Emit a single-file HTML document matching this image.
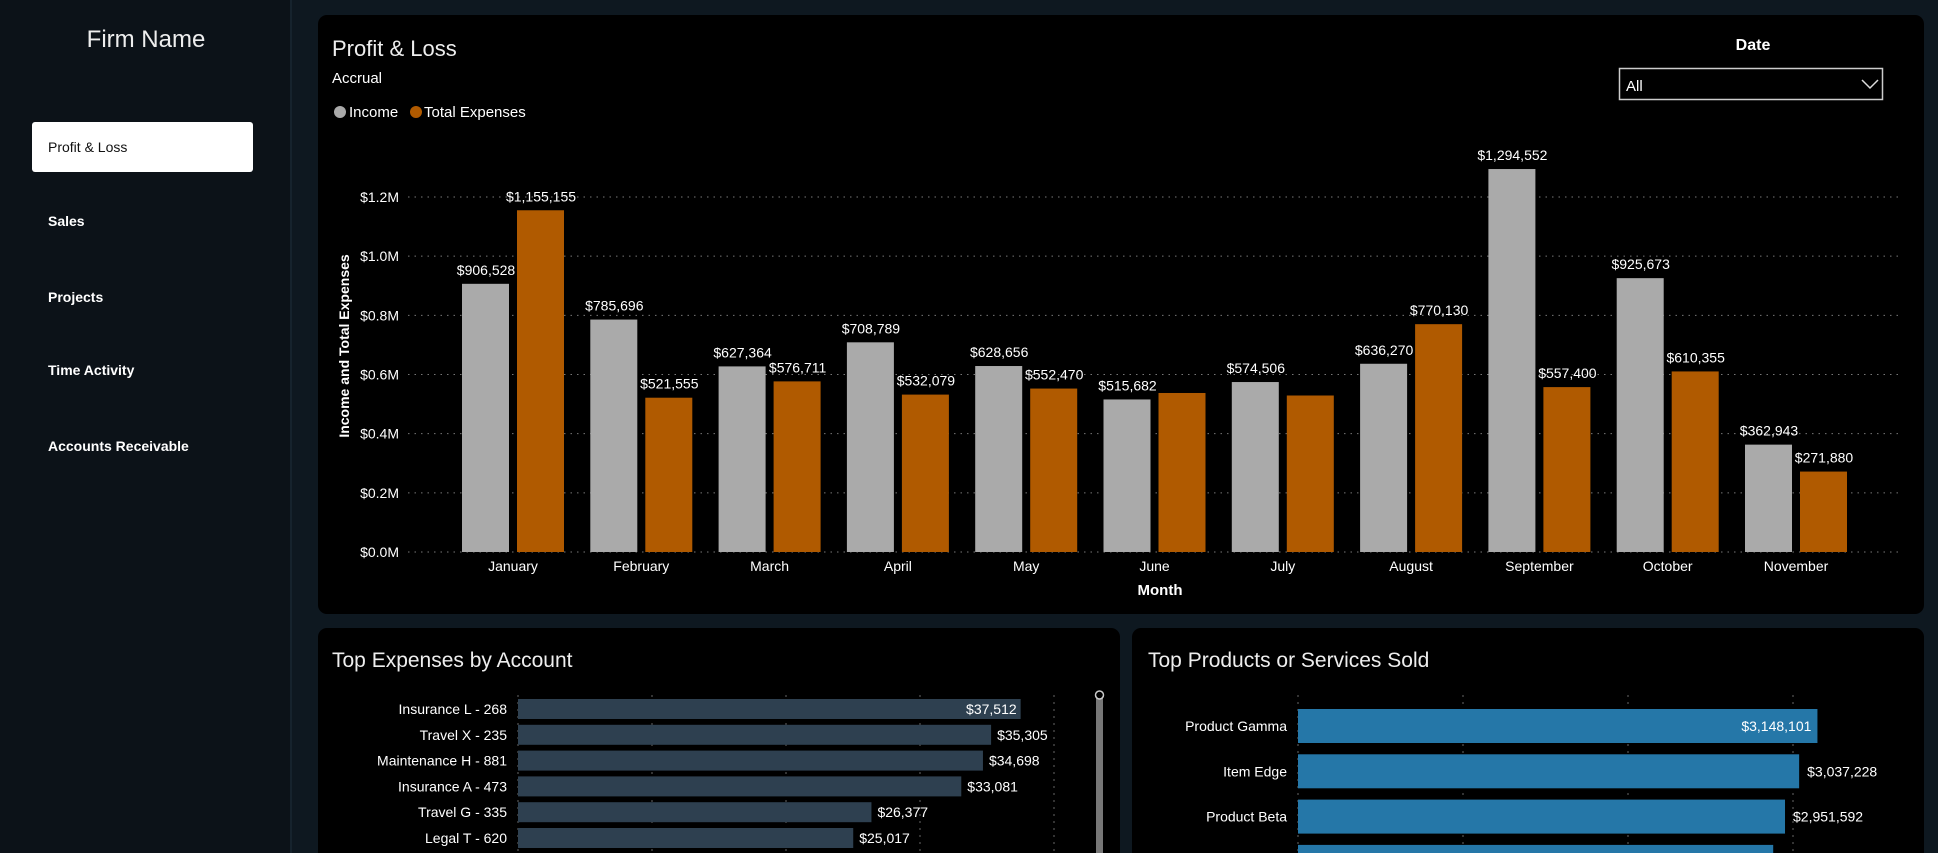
<!DOCTYPE html>
<html style="overflow:hidden;width:1938px;height:853px"><head><meta charset="utf-8">
<style>
*{margin:0;padding:0;box-sizing:border-box}
body{width:1938px;height:853px;overflow:hidden;background:#0e1820;font-family:"Liberation Sans",sans-serif;color:#fff;position:relative}
#side{position:absolute;left:0;top:0;width:292px;height:853px;background:#0c1218;border-right:2px solid #16232d}
.nav{position:absolute;left:48px;font-size:14px;font-weight:bold;color:#fff}
.panel{position:absolute;background:#000;border-radius:9px}
svg text{font-family:"Liberation Sans",sans-serif}
</style></head><body>
<div id="side">
  <div style="position:absolute;left:0;width:292px;top:26px;text-align:center;font-size:24px;font-weight:300;color:#eee">Firm Name</div>
  <div style="position:absolute;left:32px;top:122px;width:221px;height:50px;background:#fff;border-radius:3px;color:#111;font-size:14px;padding:17px 0 0 16px">Profit &amp; Loss</div>
  <div class="nav" style="top:213px">Sales</div>
  <div class="nav" style="top:289px">Projects</div>
  <div class="nav" style="top:362px">Time Activity</div>
  <div class="nav" style="top:438px">Accounts Receivable</div>
</div>

<div class="panel" style="left:318px;top:15px;width:1606px;height:599px"></div>
<div class="panel" style="left:318px;top:628px;width:802px;height:225px;border-radius:9px 9px 0 0"></div>
<div class="panel" style="left:1132px;top:628px;width:792px;height:225px;border-radius:9px 9px 0 0"></div>

<svg id="svg" width="1938" height="853" style="position:absolute;left:0;top:0">
  <text x="332" y="56" font-size="22" fill="#eee">Profit &amp; Loss</text>
  <text x="332" y="83" font-size="15" fill="#fff">Accrual</text>
  <circle cx="340" cy="112" r="6" fill="#aaa"/>
  <text x="349" y="117" font-size="15" fill="#fff">Income</text>
  <circle cx="416" cy="112" r="6" fill="#b05a00"/>
  <text x="424" y="117" font-size="15" fill="#fff">Total Expenses</text>
  <text x="1753" y="50" font-size="16" font-weight="bold" fill="#fff" text-anchor="middle">Date</text>
  <g>
    <rect x="1619.5" y="68.5" width="263" height="31" fill="#000" stroke="#ccc" stroke-width="1.5"/>
    <text x="1626" y="91" font-size="15" fill="#fff">All</text>
    <path d="M1862 80 l8 8 l8 -8" fill="none" stroke="#ddd" stroke-width="1.5"/>
  </g>
  <text transform="translate(349,346) rotate(-90)" font-size="14" font-weight="bold" fill="#fff" text-anchor="middle">Income and Total Expenses</text>
  <text x="1160" y="595" font-size="15" font-weight="bold" fill="#fff" text-anchor="middle">Month</text>
  <g id="main"></g>
  <text x="332" y="667" font-size="21" fill="#eee">Top Expenses by Account</text>
  <g id="exp"></g>
  <rect x="1096" y="696" width="7" height="157" fill="#777"/>
  <circle cx="1099.5" cy="695" r="4" fill="#000" stroke="#ccc" stroke-width="1.5"/>
  <text x="1148" y="667" font-size="21" fill="#eee">Top Products or Services Sold</text>
  <g id="prod"></g>
</svg>
<script>
const months=["January","February","March","April","May","June","July","August","September","October","November"];
const income=[906528,785696,627364,708789,628656,515682,574506,636270,1294552,925673,362943];
const expenses=[1155155,521555,576711,532079,552470,537500,529000,770130,557400,610355,271880];
const expLabels=["$1,155,155","$521,555","$576,711","$532,079","$552,470","","","$770,130","$557,400","$610,355","$271,880"];
const yTicks=[0,200000,400000,600000,800000,1000000,1200000];
const yTickLabels=["$0.0M","$0.2M","$0.4M","$0.6M","$0.8M","$1.0M","$1.2M"];
const accounts=["Insurance L - 268","Travel X - 235","Maintenance H - 881","Insurance A - 473","Travel G - 335","Legal T - 620","Other"];
const accountVals=[37512,35305,34698,33081,26377,25017,24000];
const accTicks=[0,10000,20000,30000,40000];
const products=["Product Gamma","Item Edge","Product Beta","Item Other"];
const productVals=[3148101,3037228,2951592,2880000];
const prodTicks=[0,1000000,2000000,3000000];
const NS="http://www.w3.org/2000/svg";
function mk(p,t,a){const e=document.createElementNS(NS,t);for(const k in a)e.setAttribute(k,a[k]);p.appendChild(e);return e;}
const fmt=v=>"$"+v.toLocaleString("en-US");
const g=document.getElementById('main');
const y=v=>552-v*(355/1200000);
const xc=i=>513+i*128.3;
yTicks.forEach((t,i)=>{
  const l=mk(g,'line',{x1:408,x2:1903,y1:y(t),y2:y(t),stroke:'#777','stroke-dasharray':'1.5 5'});
  
  
  const tx=mk(g,'text',{x:399,y:y(t)+5,'font-size':14,fill:'#fff','text-anchor':'end'});tx.textContent=yTickLabels[i];
  
  
});
months.forEach((m,i)=>{
  const c=xc(i);
  const r1=mk(g,'rect',{x:c-51,y:y(income[i]),width:47,height:552-y(income[i]),fill:'#aaa'});
  
  
  const r2=mk(g,'rect',{x:c+4,y:y(expenses[i]),width:47,height:552-y(expenses[i]),fill:'#b05a00'});
  
  
  const t1=mk(g,'text',{x:c-27,y:y(income[i])-9,'font-size':14,fill:'#fff','text-anchor':'middle'});t1.textContent=fmt(income[i]);
  
  
  const t2=mk(g,'text',{x:c+28,y:y(expenses[i])-9,'font-size':14,fill:'#fff','text-anchor':'middle'});t2.textContent=expLabels[i];
  
  
  const ml=mk(g,'text',{x:c,y:571,'font-size':14,fill:'#fff','text-anchor':'middle'});ml.textContent=m;
  
  
});
const ge=document.getElementById('exp');
const xe=v=>518+v*(134/10000);
accTicks.forEach(t=>{
  const l=mk(ge,'line',{x1:xe(t),x2:xe(t),y1:695,y2:853,stroke:'#666','stroke-dasharray':'2 5'});
  
  
});
accounts.forEach((a,i)=>{
  const cy=709+i*25.8;
  const r=mk(ge,'rect',{x:518,y:cy-10,width:xe(accountVals[i])-518,height:20,fill:'#2e4050'});
  
  
  const t=mk(ge,'text',{x:507,y:cy+5,'font-size':14,fill:'#fff','text-anchor':'end'});t.textContent=a;
  
  
  const inside=i===0;
  const v=mk(ge,'text',{x:inside?xe(accountVals[i])-4:xe(accountVals[i])+6,y:cy+5,'font-size':14,fill:'#fff','text-anchor':inside?'end':'start'});v.textContent=fmt(accountVals[i]);
  
  
});
const gp=document.getElementById('prod');
const xp=v=>1298+v*(165/1000000);
prodTicks.forEach(t=>{
  const l=mk(gp,'line',{x1:xp(t),x2:xp(t),y1:695,y2:853,stroke:'#666','stroke-dasharray':'2 5'});
  
  
});
products.forEach((p,i)=>{
  const cy=726+i*45.3;
  const r=mk(gp,'rect',{x:1298,y:cy-17,width:xp(productVals[i])-1298,height:34,fill:'#2577a8'});
  
  
  const t=mk(gp,'text',{x:1287,y:cy+5,'font-size':14,fill:'#fff','text-anchor':'end'});t.textContent=p;
  
  
  const inside=i===0;
  const v=mk(gp,'text',{x:inside?xp(productVals[i])-6:xp(productVals[i])+8,y:cy+5,'font-size':14,fill:'#fff','text-anchor':inside?'end':'start'});v.textContent=i<3?fmt(productVals[i]):"";
  
  
});
</script>
</body></html>
